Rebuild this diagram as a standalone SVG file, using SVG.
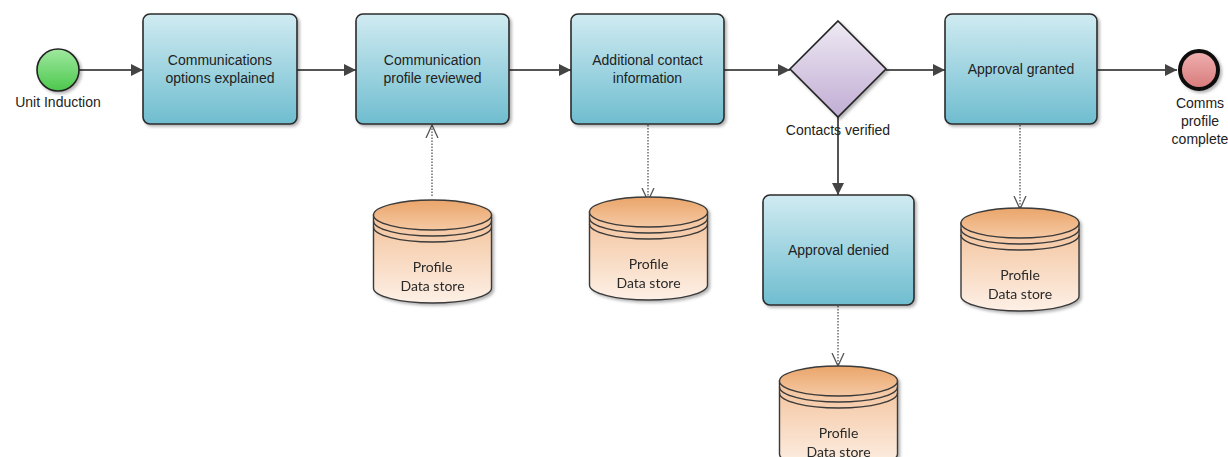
<svg xmlns="http://www.w3.org/2000/svg" width="1228" height="457" viewBox="0 0 1228 457">
<defs>
<linearGradient id="gTask" x1="0" y1="0" x2="0" y2="1"><stop offset="0" stop-color="#d0ebf1"/><stop offset="1" stop-color="#6fbdd0"/></linearGradient>
<linearGradient id="gGate" x1="0" y1="0" x2="0" y2="1"><stop offset="0" stop-color="#eee9f3"/><stop offset="1" stop-color="#c1add4"/></linearGradient>
<linearGradient id="gStart" x1="0" y1="0" x2="0" y2="1"><stop offset="0" stop-color="#9fe89f"/><stop offset="1" stop-color="#4cc84c"/></linearGradient>
<linearGradient id="gEnd" x1="0" y1="0" x2="0" y2="1"><stop offset="0" stop-color="#f0b0b0"/><stop offset="1" stop-color="#d77a7a"/></linearGradient>
<linearGradient id="gTop" x1="0" y1="0" x2="0" y2="1"><stop offset="0" stop-color="#eaa56a"/><stop offset="1" stop-color="#f5c9a4"/></linearGradient>
<linearGradient id="gBody" x1="0" y1="0" x2="0" y2="1"><stop offset="0" stop-color="#f3c29a"/><stop offset="1" stop-color="#fdf0e6"/></linearGradient>
<filter id="sh" x="-10%" y="-10%" width="130%" height="130%"><feDropShadow dx="2" dy="2" stdDeviation="1.5" flood-color="#000" flood-opacity="0.3"/></filter>
<marker id="aF" viewBox="0 0 12 12" refX="12" refY="6" markerWidth="12" markerHeight="12" markerUnits="userSpaceOnUse" orient="auto"><path d="M0,0 L12,6 L0,12 Z" fill="#444"/></marker>
<marker id="aO" viewBox="0 0 14 14" refX="13" refY="7" markerWidth="14" markerHeight="14" markerUnits="userSpaceOnUse" orient="auto"><path d="M0,1 L13,7 L0,13" fill="none" stroke="#555" stroke-width="1.3"/></marker>
<g id="store">
<path d="M-59,0 L-59,73 A59,15 0 0 0 59,73 L59,0 Z" fill="url(#gBody)" stroke="#3a3a3a" stroke-width="1.4"/>
<path d="M-59,6 A59,15 0 0 0 59,6 M-59,12 A59,15 0 0 0 59,12" fill="none" stroke="#3a3a3a" stroke-width="1.4"/>
<ellipse cx="0" cy="0" rx="59" ry="15" fill="url(#gTop)" stroke="#3a3a3a" stroke-width="1.4"/>
<text x="0" y="57" class="st">Profile</text>
<text x="0" y="76" class="st">Data store</text>
</g>
</defs>
<style>
.task{fill:url(#gTask);stroke:#2b2b2b;stroke-width:1.6;filter:url(#sh)}
.tl{font-family:"Liberation Sans",Arial,sans-serif;font-size:14px;fill:#222;text-anchor:middle}
.st{font-family:"Lato","Open Sans",sans-serif;font-size:14px;fill:#2a2a2a;text-anchor:middle}
.flow{fill:none;stroke:#555;stroke-width:2;marker-end:url(#aF)}
.assoc{fill:none;stroke:#555;stroke-width:1.3;stroke-dasharray:1.5,1.5;marker-end:url(#aO)}
</style>
<rect width="1228" height="457" fill="#fff"/>
<g id="connectors">
<path class="flow" d="M79,70 L143,70"/>
<path class="flow" d="M297,70 L356,70"/>
<path class="flow" d="M509,70 L571,70"/>
<path class="flow" d="M724,70 L790,70"/>
<path class="flow" d="M886,70 L945,70"/>
<path class="flow" d="M1097,70 L1177,70"/>
<path class="flow" d="M838,117 L838,195"/>
<path class="assoc" d="M432,196 L432,125"/>
<path class="assoc" d="M648,125 L648,201"/>
<path class="assoc" d="M838,306 L838,366"/>
<path class="assoc" d="M1020,125 L1020,209"/>
</g>
<g id="start"><circle cx="58" cy="70" r="21" fill="url(#gStart)" stroke="#222" stroke-width="1.6" filter="url(#sh)"/><text x="58" y="107" class="tl">Unit Induction</text></g>
<g id="task1"><rect class="task" x="143" y="14" width="154" height="110" rx="7"/><text x="220" y="65" class="tl">Communications</text><text x="220" y="83" class="tl">options explained</text></g>
<g id="task2"><rect class="task" x="356" y="14" width="153" height="110" rx="7"/><text x="432.5" y="65" class="tl">Communication</text><text x="432.5" y="83" class="tl">profile reviewed</text></g>
<g id="task3"><rect class="task" x="571" y="14" width="153" height="110" rx="7"/><text x="647.5" y="65" class="tl">Additional contact</text><text x="647.5" y="83" class="tl">information</text></g>
<g id="gateway"><path d="M838,21 L886,69 L838,117 L790,69 Z" fill="url(#gGate)" stroke="#222" stroke-width="1.6" filter="url(#sh)"/><text x="838" y="135" class="tl">Contacts verified</text></g>
<g id="granted"><rect class="task" x="945" y="14" width="152" height="110" rx="7"/><text x="1021" y="74" class="tl">Approval granted</text></g>
<g id="end"><circle cx="1199" cy="70" r="19" fill="url(#gEnd)" stroke="#111" stroke-width="4" filter="url(#sh)"/><text x="1200" y="108" class="tl">Comms</text><text x="1200" y="126" class="tl">profile</text><text x="1200" y="144" class="tl">complete</text></g>
<g id="denied"><rect class="task" x="763" y="195" width="151" height="110" rx="7"/><text x="838.5" y="255" class="tl">Approval denied</text></g>
<g id="store1" filter="url(#sh)"><use href="#store" x="432.5" y="215"/></g>
<g id="store2" filter="url(#sh)"><use href="#store" x="648.5" y="212"/></g>
<g id="store3" filter="url(#sh)"><use href="#store" x="838.5" y="381"/></g>
<g id="store4" filter="url(#sh)"><use href="#store" x="1020" y="223"/></g>
</svg>
